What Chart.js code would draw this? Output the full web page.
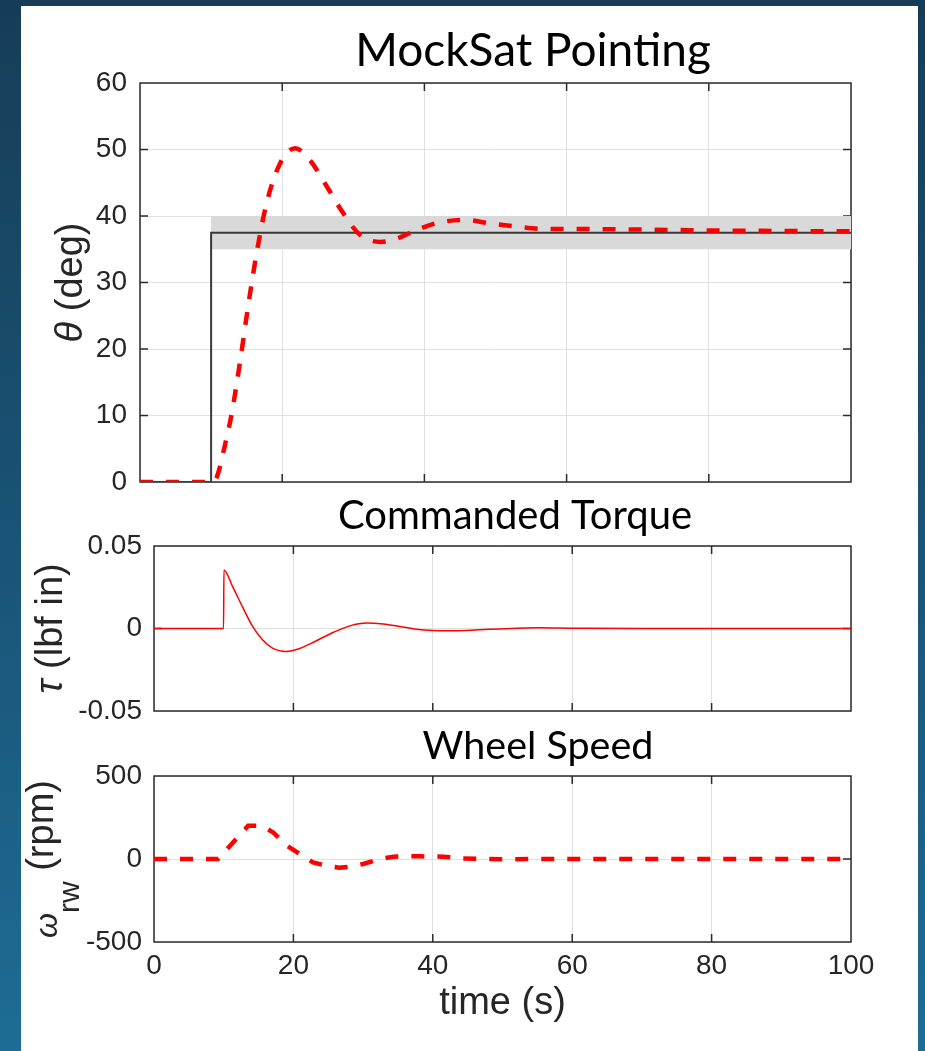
<!DOCTYPE html>
<html><head><meta charset="utf-8">
<script src="https://cdn.jsdelivr.net/npm/chart.js@4.4.1/dist/chart.umd.min.js"></script>
<style>
html,body{margin:0;padding:0;width:925px;height:1051px;overflow:hidden;}
body{background:linear-gradient(180deg,#163d57 0%,#1a5578 55%,#1e6c95 100%);position:relative;}
#panel{position:absolute;left:21px;top:6px;width:897px;height:1045px;background:#fff;}
canvas{position:absolute;left:0;}
</style></head><body>
<div id="panel"></div>
<canvas id="c1" width="925" height="500" style="top:0px"></canvas>
<canvas id="c2" width="925" height="230" style="top:500px"></canvas>
<canvas id="c3" width="925" height="321" style="top:730px"></canvas>
<script>
// ---------- data ----------
const timeTicks   = [0, 20, 40, 60, 80, 100];
const thetaTicks  = [0, 10, 20, 30, 40, 50, 60];
const torqueTicks = [-0.05, 0, 0.05];
const speedTicks  = [-500, 0, 500];

const thetaTime  = [0, 10, 10.8, 12, 12.9, 14.1, 15.2, 16.4, 17.8, 19.7, 21.8, 23.9, 26.3, 28.6, 30.9, 33.8, 36.1, 38.9, 42, 45.7, 49.2, 53, 56.7, 60.5, 67.5, 75, 82.5, 90, 97.3, 100];
const thetaValue = [0, 0, 0.75, 5.8, 10.3, 18.3, 26.4, 34.4, 41.9, 47.9, 50.2, 48.4, 44.4, 40.4, 37.2, 36.1, 36.6, 37.9, 39.0, 39.4, 38.9, 38.4, 38.05, 38.05, 38.0, 37.9, 37.8, 37.75, 37.7, 37.7];

const cmdTime  = [0, 10, 10, 100];
const cmdValue = [0, 0, 37.5, 37.5];

const bandTime  = [10, 100];
const bandUpper = [40, 40];
const bandLower = [35, 35];

const torqueTime  = [0, 9.98, 10.03, 11.3, 12.7, 14.1, 15.6, 17.0, 19.0, 20.9, 23.3, 25.7, 28.1, 30.5, 32.9, 35.3, 37.6, 40, 42.4, 44.8, 48, 52, 55, 58, 62, 70, 100];
const torqueValue = [0, 0, 0.0355, 0.0252, 0.0131, 0.0016, -0.0070, -0.0119, -0.0139, -0.0121, -0.0074, -0.0024, 0.0016, 0.0033, 0.0027, 0.0012, -0.0004, -0.0012, -0.0014, -0.0012, -0.0005, 0.0002, 0.0004, 0.0003, 0.0001, 0, 0];

const speedTime  = [0, 9.2, 13.5, 15.5, 17.1, 19.1, 20.9, 22.8, 24.7, 26.6, 28.3, 30, 32.4, 34.4, 36.3, 38.2, 41.5, 44, 47, 51, 55, 100];
const speedValue = [0, 0, 200, 200, 160, 80, 30, -20, -40, -53, -46, -30, 0, 14, 16, 16, 14, 4, 0, -2, 0, 0];

// ---------- helpers ----------
const pts = (xs, ys) => xs.map((x, i) => ({x: x, y: ys[i]}));
const TICK_FONT = {family: '"Liberation Sans", Arial, sans-serif', size: 28};
const TICK_COLOR = '#262626';
const GRID_COLOR = '#e0e0e0';

const boxPlugin = {
  id: 'boxTicks',
  beforeDatasetsDraw(chart) {
    const {ctx, chartArea: a, scales} = chart;
    const tl = 8;
    ctx.save();
    ctx.strokeStyle = '#2b2b2b';
    ctx.lineWidth = 1.5;
    ctx.beginPath();
    scales.x.ticks.forEach(t => {
      const p = scales.x.getPixelForValue(t.value);
      if (p <= a.left + 1 || p >= a.right - 1) return;
      ctx.moveTo(p, a.bottom); ctx.lineTo(p, a.bottom - tl);
      ctx.moveTo(p, a.top); ctx.lineTo(p, a.top + tl);
    });
    scales.y.ticks.forEach(t => {
      const p = scales.y.getPixelForValue(t.value);
      if (p <= a.top + 1 || p >= a.bottom - 1) return;
      ctx.moveTo(a.left, p); ctx.lineTo(a.left + tl, p);
      ctx.moveTo(a.right, p); ctx.lineTo(a.right - tl, p);
    });
    ctx.stroke();
    ctx.strokeRect(a.left, a.top, a.right - a.left, a.bottom - a.top);
    ctx.restore();
  }
};

const yLabelPlugin = {
  id: 'ylab',
  afterDraw(chart, args, opts) {
    if (!opts || !opts.parts) return;
    const {ctx, chartArea: a} = chart;
    ctx.save();
    ctx.translate(opts.x, (a.top + a.bottom) / 2);
    ctx.rotate(-Math.PI / 2);
    ctx.fillStyle = TICK_COLOR;
    ctx.textBaseline = 'alphabetic';
    ctx.textAlign = 'left';
    const fonts = opts.parts.map(p => (p.italic ? 'italic ' : '') + (p.size || opts.size) + 'px "Liberation Sans", Arial, sans-serif');
    let total = 0;
    opts.parts.forEach((p, i) => { ctx.font = fonts[i]; total += ctx.measureText(p.text).width; });
    let x = -total / 2;
    opts.parts.forEach((p, i) => { ctx.font = fonts[i]; ctx.fillText(p.text, x, p.dy || 0); x += ctx.measureText(p.text).width; });
    ctx.restore();
  }
};

const titlePlugin = {
  id: 'ttl',
  afterDraw(chart, args, opts) {
    if (!opts || !opts.text) return;
    const ctx = chart.ctx;
    ctx.save();
    ctx.fillStyle = '#000';
    ctx.font = opts.size + 'px Lato, "Open Sans", sans-serif';
    ctx.textAlign = 'center';
    ctx.textBaseline = 'alphabetic';
    ctx.fillText(opts.text, opts.x, opts.y);
    ctx.restore();
  }
};

function makeChart(id, datasets, cfg) {
  return new Chart(document.getElementById(id), {
    type: 'line',
    data: {datasets: datasets},
    plugins: [boxPlugin, yLabelPlugin, titlePlugin],
    options: {
      responsive: false,
      maintainAspectRatio: false,
      devicePixelRatio: 1,
      animation: false,
      events: [],
      layout: {padding: {left: 0, right: cfg.right, top: cfg.top, bottom: 0}},
      elements: {point: {radius: 0}, line: {borderCapStyle: 'butt'}},
      plugins: {
        legend: {display: false},
        tooltip: {enabled: false},
        title: {display: false},
        ylab: cfg.ylab,
        ttl: cfg.title
      },
      scales: {
        x: {
          type: 'linear', min: 0, max: 100,
          afterBuildTicks: s => { s.ticks = timeTicks.map(v => ({value: v})); },
          afterFit: s => { s.height = cfg.xHeight; },
          border: {display: false},
          grid: {color: GRID_COLOR, lineWidth: 1, drawTicks: false},
          ticks: {display: cfg.xLabels, color: TICK_COLOR, font: TICK_FONT, padding: 7.5, maxRotation: 0},
          title: cfg.xTitle ? {display: true, text: cfg.xTitle, color: TICK_COLOR,
                   font: {family: '"Liberation Sans", Arial, sans-serif', size: 38},
                   padding: {top: 0, bottom: 25}} : {display: false}
        },
        y: {
          type: 'linear', min: cfg.yTicks[0], max: cfg.yTicks[cfg.yTicks.length - 1],
          afterBuildTicks: s => { s.ticks = cfg.yTicks.map(v => ({value: v})); },
          afterFit: s => { s.width = cfg.yWidth; },
          border: {display: false},
          grid: {color: GRID_COLOR, lineWidth: 1, drawTicks: true, tickLength: cfg.yPad, tickColor: 'rgba(0,0,0,0)'},
          ticks: {color: TICK_COLOR, font: TICK_FONT, padding: 0,
                  callback: v => String(v)}
        }
      }
    }
  });
}

const redDash = {borderColor: '#ff0000', borderWidth: 4.5, borderDash: [13, 13], fill: false};

// Chart 1: pointing
makeChart('c1', [
  Object.assign({data: pts(thetaTime, thetaValue), cubicInterpolationMode: 'monotone'}, redDash),
  {data: pts(cmdTime, cmdValue), borderColor: '#3a3a3a', borderWidth: 2, tension: 0, fill: false},
  {data: pts(bandTime, bandUpper), borderWidth: 0, borderColor: 'rgba(0,0,0,0)', backgroundColor: '#d9d9d9', fill: '+1'},
  {data: pts(bandTime, bandLower), borderWidth: 0, borderColor: 'rgba(0,0,0,0)', fill: false}
], {right: 74, top: 83, xHeight: 18, yWidth: 140, yPad: 13, yTicks: thetaTicks, xLabels: false,
    ylab: {x: 82, size: 38, parts: [{text: 'θ', italic: true}, {text: ' (deg)'}]},
    title: {text: 'MockSat Pointing', x: 533, y: 66, size: 46}});

// Chart 2: torque
makeChart('c2', [
  {data: pts(torqueTime, torqueValue), borderColor: '#ff0000', borderWidth: 1.5, cubicInterpolationMode: 'monotone', fill: false}
], {right: 74, top: 46, xHeight: 19, yWidth: 154, yPad: 12, yTicks: torqueTicks, xLabels: false,
    ylab: {x: 62, size: 38, parts: [{text: 'τ', italic: true}, {text: ' (lbf in)'}]},
    title: {text: 'Commanded Torque', x: 515, y: 29, size: 40}});

// Chart 3: wheel speed
makeChart('c3', [
  Object.assign({data: pts(speedTime, speedValue), tension: 0}, redDash)
], {right: 74, top: 46, xHeight: 109, yWidth: 154, yPad: 12, yTicks: speedTicks, xLabels: true, xTitle: 'time (s)',
    ylab: {x: 52.5, size: 38, parts: [{text: 'ω', italic: true, size: 32, dy: 4}, {text: 'rw', size: 30, dy: 26}, {text: ' (rpm)'}]},
    title: {text: 'Wheel Speed', x: 538, y: 29, size: 39.5}});
</script>
</body></html>
